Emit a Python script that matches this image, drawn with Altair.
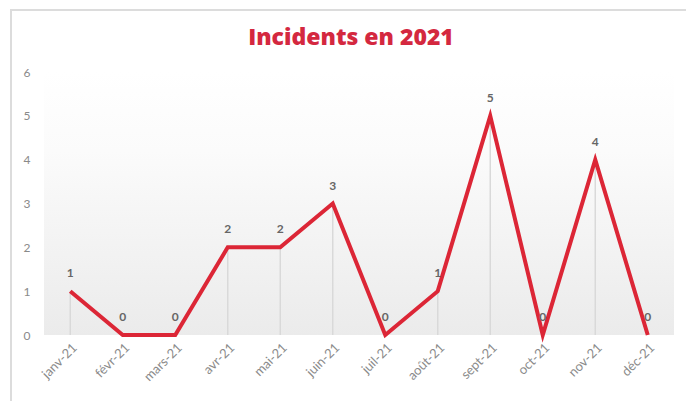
import altair as alt
import pandas as pd

months = ["janv-21", "févr-21", "mars-21", "avr-21", "mai-21", "juin-21",
          "juil-21", "août-21", "sept-21", "oct-21", "nov-21", "déc-21"]
incidents = [1, 0, 0, 2, 2, 3, 0, 1, 5, 0, 4, 0]
y_ticks = [0, 1, 2, 3, 4, 5, 6]

df = pd.DataFrame({"mois": months, "incidents": incidents})

W, H = 630, 263
RED = "#dc2636"
TITLE_RED = "#d4283f"

xenc = alt.X("mois:N", sort=months,
             scale=alt.Scale(type="point", padding=0.5),
             axis=alt.Axis(title=None, labelAngle=-45, domain=False, ticks=False,
                           labelColor="#8a8a8a", labelFontSize=13, labelFont="Lato",
                           labelPadding=6))
yenc = alt.Y("incidents:Q", scale=alt.Scale(domain=[0, 6]),
             axis=alt.Axis(title=None, values=y_ticks, domain=False, ticks=False,
                           grid=False, labelColor="#8a8a8a", labelFontSize=12,
                           labelFont="Lato", labelPadding=14))

bg = alt.Chart(df).mark_rect(
    fill=alt.LinearGradient(
        gradient="linear", x1=0, y1=0, x2=0, y2=1,
        stops=[alt.GradientStop(offset=0.0, color="#ffffff"),
               alt.GradientStop(offset=0.3, color="#fbfbfb"),
               alt.GradientStop(offset=1.0, color="#ebebeb")]),
).encode(x=alt.value(0), x2=alt.value(W), y=alt.value(0), y2=alt.value(H))

frame_top = alt.Chart(df).mark_rule(color="#dcdcdc", strokeWidth=2).encode(
    x=alt.value(-34), x2=alt.value(W + 20), y=alt.value(-62))
frame_left = alt.Chart(df).mark_rule(color="#dcdcdc", strokeWidth=2).encode(
    x=alt.value(-33), y=alt.value(-63), y2=alt.value(H + 80))

drops = alt.Chart(df).mark_rule(color="#d9d9d9", strokeWidth=1.5).encode(
    x=xenc, y=yenc, y2=alt.datum(0))

line = alt.Chart(df).mark_line(color=RED, strokeWidth=4).encode(x=xenc, y=yenc)

labels = alt.Chart(df).mark_text(dy=-18, fontSize=12, color="#666666",
                                 font="Lato", fontWeight="bold").encode(
    x=xenc, y=yenc, text="incidents:Q")

chart = alt.layer(bg, frame_top, frame_left, drops, line, labels).properties(
    width=W, height=H,
    title=alt.TitleParams("Incidents en 2021", color=TITLE_RED, fontSize=23,
                          font="Open Sans", fontWeight=800, anchor="middle",
                          dx=-8, offset=-42),
    autosize=alt.AutoSizeParams(type="none"),
    padding={"left": 44, "top": 72, "right": 12, "bottom": 66},
    background="white",
).configure_view(stroke=None)

chart.save("out.html", embed_options={"renderer": "svg", "actions": False})
